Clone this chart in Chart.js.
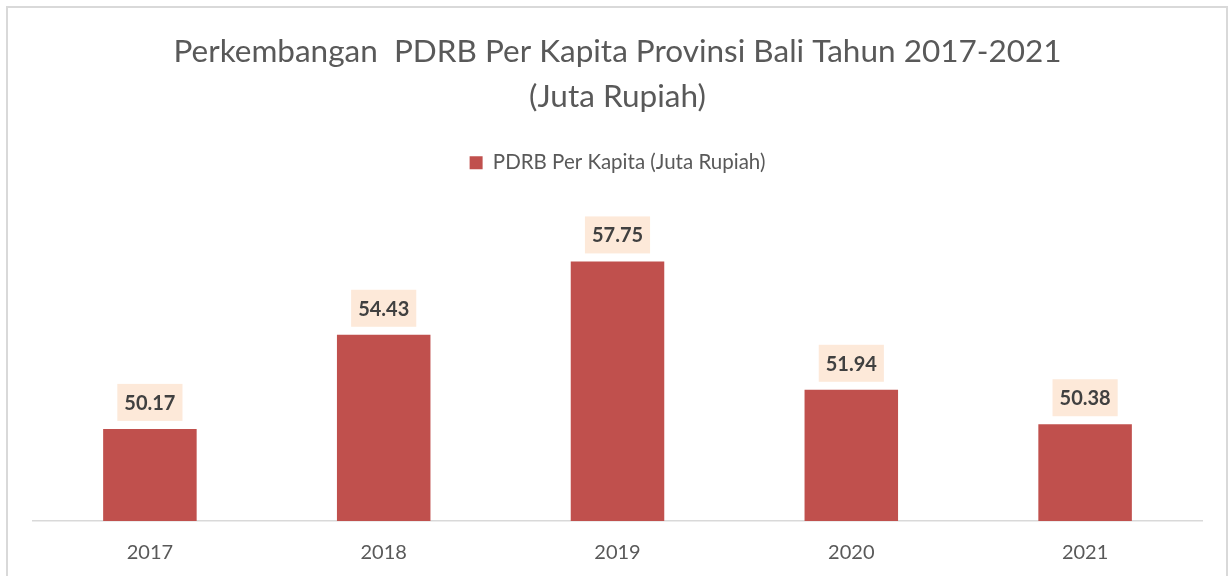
<!DOCTYPE html>
<html>
<head>
<meta charset="utf-8">
<script src="https://cdn.jsdelivr.net/npm/chart.js@4.4.0/dist/chart.umd.min.js"></script>
<style>
  html, body { margin: 0; padding: 0; background: #ffffff; overflow: hidden; }
  #wrap { position: relative; width: 1229px; height: 576px; }
  #frame { position: absolute; left: 6px; top: 6px; width: 1222px; height: 700px;
           border: 2px solid #d9d9d9; border-bottom: none; box-sizing: border-box; }
  canvas { position: absolute; left: 0; top: 0; }
</style>
</head>
<body>
<div id="wrap">
  <div id="frame"></div>
  <canvas id="c" width="1229" height="576"></canvas>
</div>
<script>
const years = ['2017', '2018', '2019', '2020', '2021'];
const pdrbValues = [50.17, 54.43, 57.75, 51.94, 50.38];
const seriesName = 'PDRB Per Kapita (Juta Rupiah)';
const titleLines = ['Perkembangan  PDRB Per Kapita Provinsi Bali Tahun 2017-2021', '(Juta Rupiah)'];

const labelBoxes = {
  id: 'labelBoxes',
  afterDatasetsDraw(chart) {
    const ctx = chart.ctx;
    const meta = chart.getDatasetMeta(0);
    const data = chart.data.datasets[0].data;
    ctx.save();
    ctx.font = 'bold 20px Lato';
    ctx.textAlign = 'center';
    ctx.textBaseline = 'middle';
    meta.data.forEach((bar, i) => {
      const txt = data[i].toFixed(2);
      const w = ctx.measureText(txt).width + 14;
      const h = 37;
      const bottom = bar.y - 8;
      ctx.fillStyle = '#FDE9D9';
      ctx.fillRect(bar.x - w / 2, bottom - h, w, h);
      ctx.fillStyle = '#404040';
      ctx.fillText(txt, bar.x, bottom - h / 2 + 1);
    });
    ctx.restore();
  }
};

new Chart(document.getElementById('c'), {
  type: 'bar',
  data: {
    labels: years,
    datasets: [{
      label: seriesName,
      data: pdrbValues,
      backgroundColor: '#C0504D',
      borderWidth: 0,
      barPercentage: 0.4,
      categoryPercentage: 1.0
    }]
  },
  options: {
    responsive: false,
    animation: false,
    layout: { padding: { left: 33, right: 27, top: 0, bottom: 11 } },
    plugins: {
      title: {
        display: true,
        text: titleLines,
        color: '#595959',
        font: { family: 'Lato', size: 31.5, weight: 'normal', lineHeight: 45 / 31.5 },
        padding: { top: 29.5, bottom: 23 }
      },
      legend: {
        display: true,
        labels: {
          color: '#595959',
          font: { family: 'Lato', size: 20.5 },
          boxWidth: 13,
          boxHeight: 13,
          padding: 10
        }
      },
      tooltip: { enabled: false }
    },
    scales: {
      x: {
        grid: { display: false, drawTicks: true, tickLength: 20 },
        border: { display: true, color: '#d9d9d9', width: 1.5 },
        ticks: { color: '#595959', font: { family: 'Lato', size: 20 }, padding: 0 }
      },
      y: {
        display: false,
        min: 46,
        max: 61.3
      }
    }
  },
  plugins: [labelBoxes]
});
</script>
</body>
</html>
